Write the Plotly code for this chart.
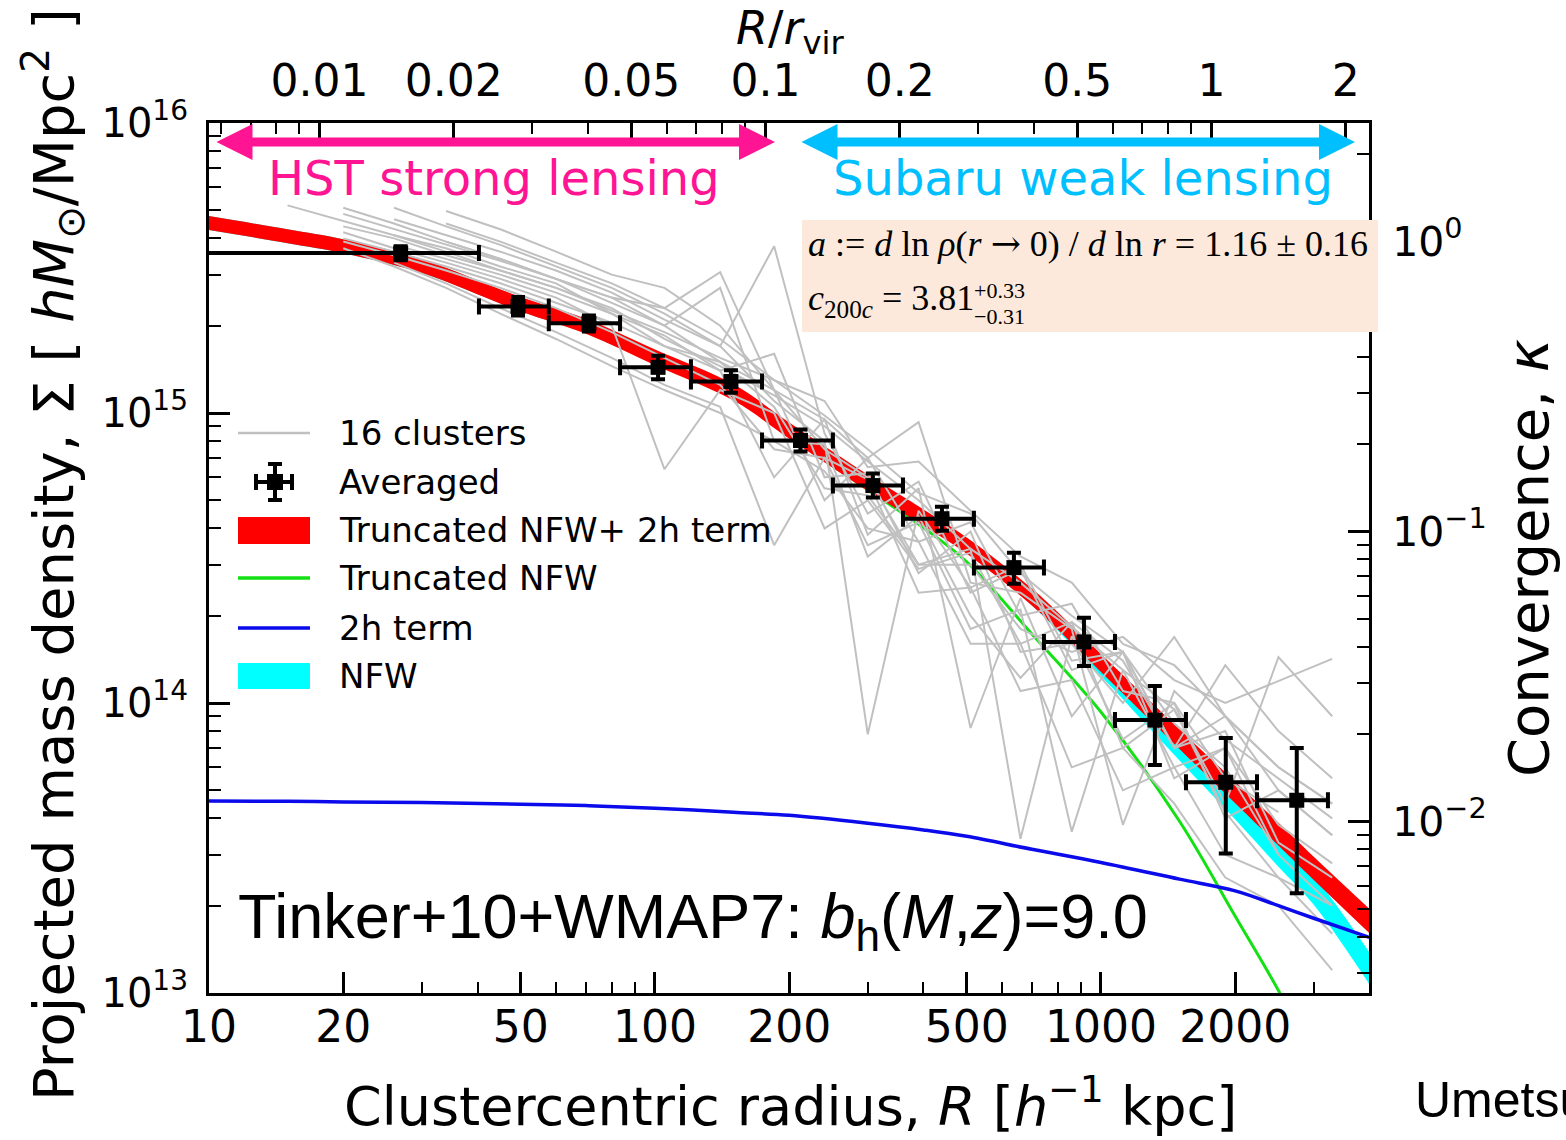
import numpy as np
import plotly.graph_objects as go

UNIT = 1e14  # surface densities below are in units of 1e14 h M_sun / Mpc^2

# ---------------- stacked (averaged) profile ----------------
R_avg = [26.9, 49.3, 71.1, 101.6, 148, 212, 308, 440, 638, 916, 1321, 1905, 2748]
R_bin_lo = [5.0, 40.3, 57.8, 83.5, 120.4, 173.8, 250.6, 359.8, 519, 745, 1075, 1551, 2238]
R_bin_hi = [40.3, 57.8, 83.5, 120.4, 173.8, 250.6, 359.8, 519, 745, 1075, 1551, 2238, 3228]
sigma_avg = [35.6, 23.3, 20.4, 14.37, 12.84, 8.04, 5.62, 4.32, 2.93, 1.624, 0.873, 0.533, 0.462]
sigma_err_up = [2.0, 1.8, 1.3, 1.4, 1.2, 0.73, 0.56, 0.43, 0.37, 0.342, 0.272, 0.224, 0.237]
sigma_err_dn = [2.0, 1.6, 1.3, 1.3, 1.1, 0.68, 0.51, 0.39, 0.35, 0.282, 0.262, 0.230, 0.241]

# ---------------- model profiles ----------------
R_model = [10, 15, 20, 30, 50, 70, 100, 150, 200, 300, 400, 500, 700, 1000, 1500, 2000, 2500, 3000, 4000]
tnfw_2h = [45.2, 40.7, 37.6, 32.1, 23.7, 19.9, 15.55, 11.77, 8.70, 5.75, 4.36, 3.49, 2.32, 1.375, 0.751, 0.491, 0.353, 0.269, 0.177]
tnfw_2h_halfwidth_dex = [0.024, 0.024, 0.024, 0.024, 0.025, 0.026, 0.027, 0.028, 0.028, 0.028, 0.028, 0.028,
                         0.029, 0.031, 0.034, 0.037, 0.039, 0.040, 0.042]
nfw = [45.2, 40.7, 37.6, 32.1, 23.7, 19.9, 15.55, 11.77, 8.70, 5.75, 4.36, 3.49, 2.29, 1.321, 0.688, 0.437, 0.303, 0.226, 0.1215]
nfw_halfwidth_dex = [0.024, 0.024, 0.024, 0.024, 0.024, 0.024, 0.024, 0.024, 0.024, 0.024, 0.024, 0.024,
                     0.024, 0.028, 0.036, 0.042, 0.046, 0.050, 0.055]
tnfw = [45.2, 40.7, 37.6, 32.1, 23.7, 19.9, 15.55, 11.6, 8.36, 5.44, 4.02, 3.07, 1.73, 0.931, 0.391, 0.184, 0.102, 0.0594, 0.0248]
two_halo = [0.459, 0.458, 0.456, 0.454, 0.448, 0.443, 0.434, 0.420, 0.410, 0.385, 0.365, 0.347, 0.313, 0.282, 0.247, 0.225, 0.200, 0.181, 0.1555]

# ---------------- individual clusters ----------------
R_cl = [15, 20, 26, 34, 45, 60, 80, 105, 140, 185, 240, 300, 390, 510, 660, 860, 1120, 1460, 1900, 2500, 3300]
N = None
cl_01 = [52, 46, 41, 36, 31, 27, 22.5, 19, 15.5, 13, 11, 6.5, 6.8, 4.6, 3.2, 2.6, 1.6, 1.35, 0.9, 0.6, 0.45]
cl_02 = [N, 48.6, 43, 38, 33.5, 29, 25, 23, 30.6, 12, 9.5, 7.0, 3.6, 4.2, 2.0, 2.2, 1.1, 1.0, 0.55, 0.42, N]
cl_03 = [N, N, 46.6, 41, 36, 31, 26, 21, 17, 37.6, 8.5, 4.5, 5.8, 2.4, 2.9, 1.3, 1.5, 0.7, 0.9, 0.5, 0.35]
cl_04 = [N, 42, 37, 33, 29, 25, 20, 6.4, 12, 10, 4.0, 5.0, 2.9, 3.3, 1.6, 1.9, 0.7, 0.95, 0.42, 0.25, 0.2]
cl_05 = [N, N, 51, 44, 38, 32, 27, 22, 17, 11, 8.0, 0.78, 4.6, 2.5, 3.0, 1.4, 1.5, 0.85, 0.6, 0.3, N]
cl_06 = [N, 40, 36, 32, 28, 24, 20.5, 17, 14, 6.0, 9.5, 3.8, 5.5, 0.82, 2.3, 0.9, 1.5, 0.55, 0.7, 0.38, 0.28]
cl_07 = [N, N, N, 49.7, 43, 36, 30, 27, 20, 12, 7.5, 6.0, 3.0, 3.4, 0.34, 1.7, 0.75, 1.0, 0.4, 0.5, 0.35]
cl_08 = [N, 39, 35, 31, 27, 23, 19, 15.5, 12.5, 7.5, 7.0, 3.5, 4.2, 1.8, 2.1, 0.36, 1.3, 0.6, 0.7, 0.3, 0.2]
cl_09 = [N, 51, 45, 39, 34, 29, 24, 20, 15, 12, 5.0, 7.0, 9.3, 2.6, 2.4, 1.8, 0.38, 1.1, 0.75, 0.55, 0.4]
cl_10 = [N, N, 38, 34, 30, 26, 22, 18.5, 14, 16, 6.0, 6.2, 2.8, 3.9, 1.5, 1.6, 1.0, 1.69, 0.9, 0.6, 0.45]
cl_11 = [N, N, N, 39, 34, 29, 25, 20, 27, 8.0, 7.8, 3.2, 4.4, 2.0, 1.22, 1.9, 1.4, 0.7, 1.35, 0.8, 0.55]
cl_12 = [N, 44, 40, 35, 31, 27, 23, 18, 14.5, 11.5, 9.0, 6.8, 5.0, 3.4, 2.6, 1.83, 1.3, 0.95, 0.45, 1.44, 0.9]
cl_13 = [N, N, 41, 37, 32, 28, 22, 17, 15, 10.5, 5.5, 5.2, 3.0, 3.0, 1.8, 1.5, 1.69, 1.2, 1.0, 1.19, 1.42]
cl_14 = [N, 37, 32, 27, 22, 18, 14.5, 12, 10, 8.0, 6.3, 4.0, 3.6, 1.6, 1.6, 0.6, 0.7, 0.45, 0.25, 0.2, 0.12]
cl_15 = [N, N, 33, 28, 23, 19, 15.5, 12.5, 10.5, 3.5, 7.0, 5.9, 2.4, 2.5, 1.1, 1.2, 0.5, 0.6, 0.3, 0.25, 0.16]
cl_16 = [N, N, N, 45, 39, 33, 28, 23, 18, 13, 9.8, 7.5, 5.3, 4.5, 2.8, 2.0, 1.5, 0.7, 0.8, 0.33, 0.25]
clusters = [cl_01, cl_02, cl_03, cl_04, cl_05, cl_06, cl_07, cl_08,
            cl_09, cl_10, cl_11, cl_12, cl_13, cl_14, cl_15, cl_16]

# ---------------- axes ----------------
R_VIR = 1770.0           # h^-1 kpc, sets the R/r_vir axis
SIGMA_CRIT = 3.91e15     # h M_sun / Mpc^2, sets the convergence axis
X_LOG_RANGE = [1.0, 3.601]
Y_LOG_RANGE = [13.0, 16.0]

x_major = [10, 20, 50, 100, 200, 500, 1000, 2000]
x_minor = [30, 40, 60, 70, 80, 90, 300, 400, 600, 700, 800, 900, 3000]
top_major = [0.01, 0.02, 0.05, 0.1, 0.2, 0.5, 1, 2]
top_labels = ["0.01", "0.02", "0.05", "0.1", "0.2", "0.5", "1", "2"]
top_minor = [0.006, 0.007, 0.008, 0.009, 0.03, 0.04, 0.06, 0.07, 0.08, 0.09, 0.3, 0.4, 0.6, 0.7, 0.8, 0.9]
y_major = [1e13, 1e14, 1e15, 1e16]
y_labels = ["10<sup>13</sup>", "10<sup>14</sup>", "10<sup>15</sup>", "10<sup>16</sup>"]
y_minor = [m * 10.0 ** e for e in (13, 14, 15) for m in range(2, 10)]
k_major = [0.01, 0.1, 1]
k_labels = ["10<sup>\u22122</sup>", "10<sup>\u22121</sup>", "10<sup>0</sup>"]
k_minor = [m * 10.0 ** e for e in (-3, -2, -1, 0) for m in range(2, 10)]

SANS = "DejaVu Sans"
GREY = "rgb(192,192,192)"
PINK = "#FF1493"
SKY = "#00BFFF"

R_model_a = np.array(R_model, dtype=float)


def band(center, halfwidth):
    c = np.array(center) * UNIT
    w = np.array(halfwidth)
    return c * 10 ** (-w), c * 10 ** w


fig = go.Figure()

# NFW band (drawn first, mostly hidden under the truncated model)
lo, hi = band(nfw, nfw_halfwidth_dex)
fig.add_trace(go.Scatter(x=R_model_a, y=lo, mode="lines", line=dict(width=0, shape="spline"),
                         showlegend=False, hoverinfo="skip"))
fig.add_trace(go.Scatter(x=R_model_a, y=hi, mode="lines", line=dict(width=0, shape="spline"),
                         fill="tonexty", fillcolor="#00FFFF", showlegend=False, hoverinfo="skip"))

# truncated NFW alone
fig.add_trace(go.Scatter(x=R_model_a, y=np.array(tnfw) * UNIT, mode="lines",
                         line=dict(color="rgb(20,225,20)", width=3, shape="spline"),
                         showlegend=False, hoverinfo="skip"))

# truncated NFW + 2-halo band
lo, hi = band(tnfw_2h, tnfw_2h_halfwidth_dex)
fig.add_trace(go.Scatter(x=R_model_a, y=lo, mode="lines", line=dict(width=0, shape="spline"),
                         showlegend=False, hoverinfo="skip"))
fig.add_trace(go.Scatter(x=R_model_a, y=hi, mode="lines", line=dict(width=0, shape="spline"),
                         fill="tonexty", fillcolor="#FF0000", showlegend=False, hoverinfo="skip"))

# the 16 individual cluster profiles
for prof in clusters:
    yv = [None if v is None else v * UNIT for v in prof]
    fig.add_trace(go.Scatter(x=R_cl, y=yv, mode="lines", line=dict(color=GREY, width=2),
                             showlegend=False, hoverinfo="skip"))

# 2-halo term
fig.add_trace(go.Scatter(x=R_model_a, y=np.array(two_halo) * UNIT, mode="lines",
                         line=dict(color="rgb(10,10,235)", width=3.5, shape="spline"),
                         showlegend=False, hoverinfo="skip"))

# stacked profile with bin widths and errors
Ra = np.array(R_avg)
fig.add_trace(go.Scatter(
    x=Ra, y=np.array(sigma_avg) * UNIT, mode="markers",
    marker=dict(symbol="square", size=15, color="black"),
    error_x=dict(type="data", symmetric=False, array=np.array(R_bin_hi) - Ra,
                 arrayminus=Ra - np.array(R_bin_lo), color="black", thickness=4, width=8),
    error_y=dict(type="data", symmetric=False, array=np.array(sigma_err_up) * UNIT,
                 arrayminus=np.array(sigma_err_dn) * UNIT, color="black", thickness=4, width=7),
    showlegend=False, hoverinfo="skip"))

# carrier trace for the secondary (top / right) axes
fig.add_trace(go.Scatter(x=[None], y=[None], xaxis="x2", yaxis="y2", mode="markers",
                         showlegend=False, hoverinfo="skip"))

# ---------------- layout ----------------
W, H = 1566, 1140
PL, PR, PT, PB = 209, 1369, 123, 993


def px(x):
    return (x - PL) / (PR - PL)


def py(y):
    return (PB - y) / (PB - PT)


axis_common = dict(showgrid=False, zeroline=False, showline=True, linecolor="black", linewidth=3,
                   ticks="inside", tickcolor="black", tickwidth=2.5, ticklen=21)

lg_crit = np.log10(SIGMA_CRIT)
lg_vir = np.log10(R_VIR)

fig.update_layout(
    width=W, height=H,
    margin=dict(l=PL, r=W - PR, t=PT, b=H - PB, pad=0),
    paper_bgcolor="white", plot_bgcolor="white",
    font=dict(family=SANS, color="black"),
    showlegend=False,
    xaxis=dict(type="log", range=X_LOG_RANGE, autorange=False, tickmode="array",
               tickvals=x_major, ticktext=[str(v) for v in x_major],
               tickfont=dict(size=44, family=SANS), ticklabelstandoff=-7,
               minor=dict(tickmode="array", tickvals=x_minor, ticks="inside", ticklen=11,
                          tickwidth=2, tickcolor="black"),
               **axis_common),
    xaxis2=dict(type="log", overlaying="x", side="top", anchor="y",
                range=[X_LOG_RANGE[0] - lg_vir, X_LOG_RANGE[1] - lg_vir], autorange=False,
                tickmode="array", tickvals=top_major, ticktext=top_labels,
                tickfont=dict(size=44, family=SANS), ticklabelstandoff=6,
                minor=dict(tickmode="array", tickvals=top_minor, ticks="inside", ticklen=11,
                           tickwidth=2, tickcolor="black"),
                **axis_common),
    yaxis=dict(type="log", range=Y_LOG_RANGE, autorange=False, tickmode="array",
               tickvals=y_major, ticktext=y_labels,
               tickfont=dict(size=40, family=SANS), ticklabelstandoff=10,
               minor=dict(tickmode="array", tickvals=y_minor, ticks="inside", ticklen=12,
                          tickwidth=2, tickcolor="black"),
               **axis_common),
    yaxis2=dict(type="log", overlaying="y", side="right", anchor="x",
                range=[Y_LOG_RANGE[0] - lg_crit, Y_LOG_RANGE[1] - lg_crit], autorange=False,
                tickmode="array", tickvals=k_major, ticktext=k_labels,
                tickfont=dict(size=41, family=SANS), ticklabelstandoff=12,
                minor=dict(tickmode="array", tickvals=k_minor, ticks="inside", ticklen=12,
                           tickwidth=2, tickcolor="black"),
                **axis_common),
)

shapes = []
annotations = []


def text(x, y, s, size, family=SANS, color="black", xanchor="left", yanchor="middle", angle=0):
    annotations.append(dict(x=px(x), y=py(y), xref="paper", yref="paper", text=s, showarrow=False,
                            xanchor=xanchor, yanchor=yanchor, textangle=angle,
                            font=dict(size=size, family=family, color=color)))


# axis titles
text(790, 1102, "Clustercentric radius, <i>R</i> [<i>h</i><sup>\u22121</sup> kpc]", 54, xanchor="center")
text(53, 555, "Projected mass density, \u03a3 [ <i>hM</i><sub>\u2299</sub>/Mpc<sup>2</sup> ]", 56,
     xanchor="center", angle=-90)
text(1528, 558, "Convergence, <i>\u03ba</i>", 56, xanchor="center", angle=-90)
text(790, 31, "<i>R</i>/<i>r</i><sub>vir</sub>", 46, xanchor="center")

# lensing regimes
for (x0, x1, col, label, lx) in [(215, 775, PINK, "HST strong lensing", 266),
                                 (800, 1355, SKY, "Subaru weak lensing", 831)]:
    annotations.append(dict(x=px(x1), y=py(142), xref="paper", yref="paper", text="",
                            showarrow=True, ax=-(x1 - x0), ay=0, axref="pixel", ayref="pixel",
                            arrowhead=2, arrowside="end+start", arrowsize=0.8, arrowwidth=9,
                            arrowcolor=col, standoff=0, startstandoff=0))
    text(lx, 178, label, 48, color=col)

# parameter box
shapes.append(dict(type="rect", xref="paper", yref="paper", x0=px(802), x1=px(1378),
                   y0=py(332), y1=py(220), fillcolor="rgb(252,233,219)", line=dict(width=0),
                   layer="above"))
SERIF = "Liberation Serif"
ARROW = "<span style='font-family:DejaVu Serif'>\u2192</span>"
text(806, 243, "<i>a</i> := <i>d</i> ln <i>\u03c1</i>(<i>r</i> " + ARROW
     + " 0) / <i>d</i> ln <i>r</i> = 1.16 \u00b1 0.16", 36, family=SERIF)
text(806, 300, "<i>c</i><sub>200<i>c</i></sub> = 3.81", 36, family=SERIF)
text(972, 290, "+0.33", 22, family=SERIF)
text(972, 316, "\u22120.31", 22, family=SERIF)

# bias annotation and credit
text(236, 920, "Tinker+10+WMAP7: <i>b</i><sub>h</sub>(<i>M</i>,<i>z</i>)=9.0", 63, family="Liberation Sans")
text(1413, 1070, "Umetsu et al. 2014<br>ApJ 795, 163", 50, family="Liberation Sans", yanchor="top")

# legend
LX0, LX1, TX = 238, 310, 337
shapes.append(dict(type="line", xref="paper", yref="paper", x0=px(LX0), x1=px(LX1), y0=py(433), y1=py(433),
                   line=dict(color=GREY, width=2.5)))
text(TX, 433, "16 clusters", 34)
# errorbar glyph
for seg in [(256, 482, 292, 482), (275, 464, 275, 500), (256, 474, 256, 490), (292, 474, 292, 490),
            (268, 464, 282, 464), (268, 500, 282, 500)]:
    shapes.append(dict(type="line", xref="paper", yref="paper", x0=px(seg[0]), x1=px(seg[2]),
                       y0=py(seg[1]), y1=py(seg[3]), line=dict(color="black", width=4)))
shapes.append(dict(type="rect", xref="paper", yref="paper", x0=px(267), x1=px(283), y0=py(490), y1=py(474),
                   fillcolor="black", line=dict(width=0)))
text(TX, 482, "Averaged", 34)
shapes.append(dict(type="rect", xref="paper", yref="paper", x0=px(LX0), x1=px(LX1), y0=py(544), y1=py(517),
                   fillcolor="#FF0000", line=dict(width=0)))
text(TX, 530, "Truncated NFW+ 2h term", 34)
shapes.append(dict(type="line", xref="paper", yref="paper", x0=px(LX0), x1=px(LX1), y0=py(578), y1=py(578),
                   line=dict(color="rgb(20,225,20)", width=3.5)))
text(TX, 578, "Truncated NFW", 34)
shapes.append(dict(type="line", xref="paper", yref="paper", x0=px(LX0), x1=px(LX1), y0=py(628), y1=py(628),
                   line=dict(color="rgb(10,10,235)", width=3.5)))
text(TX, 628, "2h term", 34)
shapes.append(dict(type="rect", xref="paper", yref="paper", x0=px(LX0), x1=px(LX1), y0=py(689), y1=py(663),
                   fillcolor="#00FFFF", line=dict(width=0)))
text(TX, 676, "NFW", 34)

fig.update_layout(shapes=shapes, annotations=annotations)
fig.write_html("out.html")
